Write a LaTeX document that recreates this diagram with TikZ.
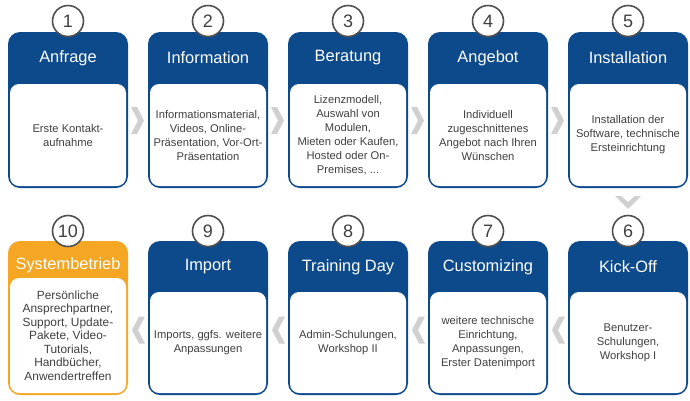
\documentclass[tikz,border=0pt]{standalone}
\usepackage{fontspec}
\setmainfont{Liberation Sans}
\usepackage{tikz}
\usetikzlibrary{shapes,backgrounds,calc}

\definecolor{kblue}{RGB}{12,74,140}
\definecolor{korange}{RGB}{245,166,35}
\definecolor{ktext}{RGB}{64,64,64}
\definecolor{kchev}{RGB}{208,208,208}
\definecolor{kring}{RGB}{80,80,80}

\tikzset{
	card/.style={fill=kblue, rounded corners=12pt, minimum width=120pt, minimum height=156pt, inner sep=0pt},
	body/.style={fill=white, rounded corners=9pt, minimum width=116pt, minimum height=102pt, inner sep=0pt,
		align=center, text=ktext, font=\fontsize{11.2}{14}\selectfont},
	head/.style={text=white, font=\fontsize{16.4}{18}\selectfont, inner sep=0pt},
	num/.style={circle, draw=kring, line width=1.6pt, fill=white, minimum size=31pt, inner sep=0pt,
		text=ktext, font=\fontsize{18}{18}\selectfont},
	chev/.style={fill=kchev}
}

\begin{document}
\begin{tikzpicture}[x=1pt,y=-1pt]
	\useasboundingbox (0,0) rectangle (690,400);

	\node[card] (k1) at (68,110) {};
	\node[card] (k2) at (208,110) {};
	\node[card] (k3) at (348,110) {};
	\node[card] (k4) at (488,110) {};
	\node[card] (k5) at (628,110) {};

	\node[card, minimum height=154pt] (k6) at (628,318) {};
	\node[card, minimum height=154pt] (k7) at (488,318) {};
	\node[card, minimum height=154pt] (k8) at (348,318) {};
	\node[card, minimum height=154pt] (k9) at (208,318) {};
	\node[card, minimum height=154pt, fill=korange] (k10) at (68,318) {};

	\node[body] (b1) at (68,135) {Erste Kontakt-\\aufnahme};
	\node[body] (b2) at (208,135) {Informationsmaterial,\\Videos, Online-\\Pr\"asentation, Vor-Ort-\\Pr\"asentation};
	\node[body] (b3) at (348,135) {Lizenzmodell,\\Auswahl von\\Modulen,\\Mieten oder Kaufen,\\Hosted oder On-\\Premises, ...};
	\node[body] (b4) at (488,135) {Individuell\\zugeschnittenes\\Angebot nach Ihren\\W\"unschen};
	\node[body] (b5) at (628,135) {Installation der\\Software, technische\\Ersteinrichtung};

	\node[body, minimum height=101pt] (b6) at (628,342.5) {Benutzer-\\Schulungen,\\Workshop I};
	\node[body, minimum height=101pt] (b7) at (488,342.5) {weitere technische\\Einrichtung,\\Anpassungen,\\Erster Datenimport};
	\node[body, minimum height=101pt] (b8) at (348,342.5) {Admin-Schulungen,\\Workshop II};
	\node[body, minimum height=101pt] (b9) at (208,342.5) {Imports, ggfs. weitere\\Anpassungen};
	\node[body, minimum height=115pt, font=\fontsize{11.9}{13.5}\selectfont] (b10) at (68,335.5) {Pers\"onliche\\Ansprechpartner,\\Support, Update-\\Pakete, Video-\\Tutorials,\\Handb\"ucher,\\Anwendertreffen};

	\node[head] (h1) at (68,58) {Anfrage};
	\node[head] (h2) at (208,58) {Information};
	\node[head] (h3) at (348,58) {Beratung};
	\node[head] (h4) at (488,58) {Angebot};
	\node[head] (h5) at (628,58) {Installation};
	\node[head] (h6) at (628,267) {Kick-Off};
	\node[head] (h7) at (488,267) {Customizing};
	\node[head] (h8) at (348,267) {Training Day};
	\node[head] (h9) at (208,267) {Import};
	\node[head] (h10) at (68,265) {Systembetrieb};

	\node[num] (n1) at (68,21) {1};
	\node[num] (n2) at (208,21) {2};
	\node[num] (n3) at (348,21) {3};
	\node[num] (n4) at (488,21) {4};
	\node[num] (n5) at (628,21) {5};
	\node[num] (n6) at (628,231) {6};
	\node[num] (n7) at (488,231) {7};
	\node[num] (n8) at (348,231) {8};
	\node[num] (n9) at (208,231) {9};
	\node[num] (n10) at (68,231) {10};

	\fill[chev] (131,107) -- ++(6,0) -- ++(7,13.5) -- ++(-7,13.5) -- ++(-6,0) -- ++(7,-13.5) -- cycle;
	\fill[chev] (271,107) -- ++(6,0) -- ++(7,13.5) -- ++(-7,13.5) -- ++(-6,0) -- ++(7,-13.5) -- cycle;
	\fill[chev] (411,107) -- ++(6,0) -- ++(7,13.5) -- ++(-7,13.5) -- ++(-6,0) -- ++(7,-13.5) -- cycle;
	\fill[chev] (551,107) -- ++(6,0) -- ++(7,13.5) -- ++(-7,13.5) -- ++(-6,0) -- ++(7,-13.5) -- cycle;

	\fill[chev] (615,196) -- ++(0,-0) -- ++(6,0) -- ++(7,6) -- ++(7,-6) -- ++(6,0) -- ++(-13,13) -- cycle;

	\fill[chev] (565,316.5) -- ++(-6,0) -- ++(-7,13.5) -- ++(7,13.5) -- ++(6,0) -- ++(-7,-13.5) -- cycle;
	\fill[chev] (425,316.5) -- ++(-6,0) -- ++(-7,13.5) -- ++(7,13.5) -- ++(6,0) -- ++(-7,-13.5) -- cycle;
	\fill[chev] (285,316.5) -- ++(-6,0) -- ++(-7,13.5) -- ++(7,13.5) -- ++(6,0) -- ++(-7,-13.5) -- cycle;
	\fill[chev] (145,316.5) -- ++(-6,0) -- ++(-7,13.5) -- ++(7,13.5) -- ++(6,0) -- ++(-7,-13.5) -- cycle;
\end{tikzpicture}
\end{document}
